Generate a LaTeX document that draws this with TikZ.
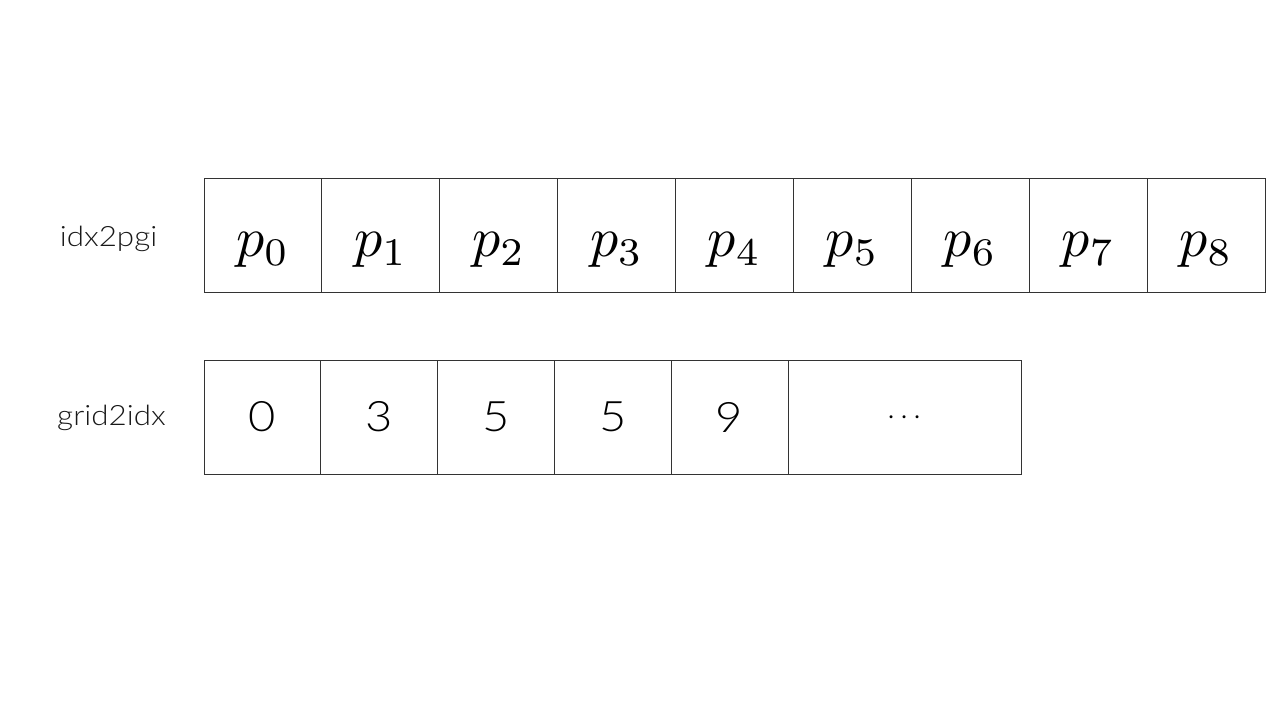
\documentclass[tikz,border=0pt]{standalone}
\usepackage{graphicx}
\usepackage{fontspec}
\newfontfamily\labfont[FakeStretch=1.12]{Lato Light}
\tikzset{
  cellbox/.style={draw=black!80, line width=0.9pt, rectangle, inner sep=0pt, minimum height=114pt},
  ptext/.style={inner sep=0pt},
  numtext/.style={inner sep=0pt, font=\labfont\fontsize{42}{44}\selectfont},
  rowlabel/.style={inner sep=0pt, text=black!90, font=\labfont\fontsize{28}{30}\selectfont},
}
\begin{document}
\begin{tikzpicture}[x=1pt,y=-1pt]
\useasboundingbox (0,0) rectangle (1280,720);
% top row
\foreach \i in {0,...,8} {
  \node[cellbox, minimum width=117.9pt] (a\i) at ({204+117.9*(\i+0.5)},235) {};
  \node[ptext] (pa\i) at ([yshift=-15pt]a\i.center) {\scalebox{5.6}{$p_{\i}$}};
}
% bottom row
\foreach \i/\v in {0/0,1/3,2/5,3/5,4/9} {
  \node[cellbox, minimum width=116.8pt] (b\i) at ({204+116.8*(\i+0.5)},417) {};
  \node[numtext] (nb\i) at (b\i.center) {\v};
}
\node[cellbox, minimum width=233pt] (b5) at (904.5,417) {};
\node[inner sep=0pt] (nb5) at ([yshift=-1pt]b5.center) {\scalebox{2.9}{$\cdots$}};
% row labels
\node[rowlabel] (l1) at (108.5,239) {idx2pgi};
\node[rowlabel] (l2) at (111.5,418) {grid2idx};
\end{tikzpicture}
\end{document}
